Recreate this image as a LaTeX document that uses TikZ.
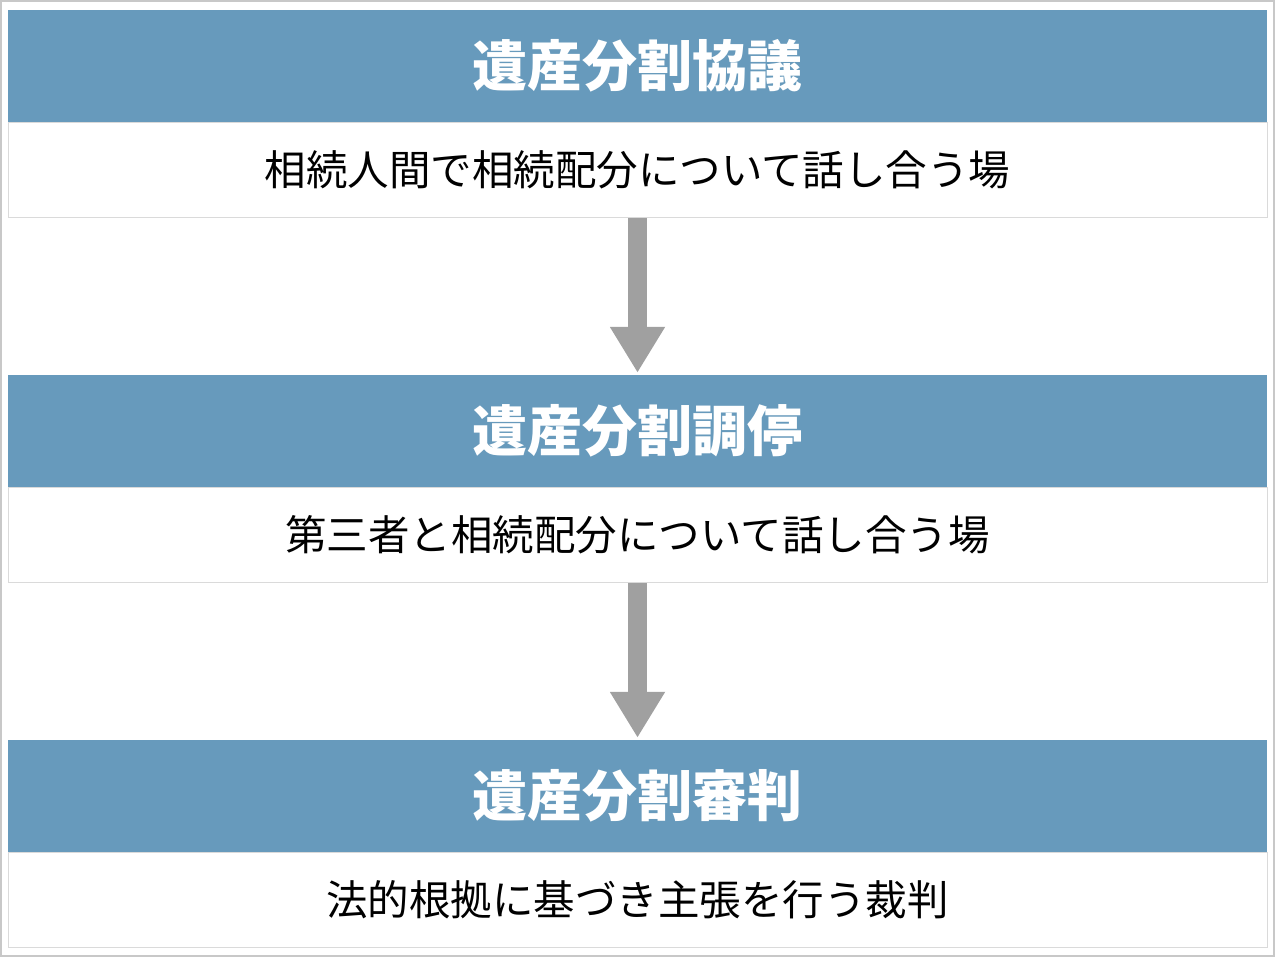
\documentclass[tikz,border=0pt]{standalone}
\usepackage{fontspec}
\newfontfamily\jpfont{Noto Sans CJK JP}
\usepackage{tikz}
\usetikzlibrary{arrows.meta, positioning}
\definecolor{HeadBlue}{HTML}{679ABC}
\definecolor{FlowGray}{HTML}{A0A0A0}
\definecolor{FrameGray}{HTML}{C8C8C8}
\definecolor{BodyLine}{HTML}{DADADA}

\begin{document}
\begin{tikzpicture}[x=1pt, y=-1pt,
  headbox/.style={rectangle, fill=HeadBlue, draw=none, minimum width=1259pt, minimum height=112pt, inner sep=0pt,
    text=white, font=\jpfont\bfseries\fontsize{55}{60}\selectfont},
  bodybox/.style={rectangle, fill=white, draw=BodyLine, line width=1pt, minimum width=1259pt, minimum height=95pt, inner sep=0pt,
    font=\jpfont\fontsize{41.5}{46}\selectfont},
  flow/.style={draw=FlowGray, line width=19pt, -{Triangle[length=46pt, width=52pt]}, shorten >=2pt},
]
  \useasboundingbox (0,0) rectangle (1275,957);
  \draw[FrameGray, line width=2pt] (1,1) rectangle (1274,956);
  % three stages, one header and one body each
  \foreach \i/\yy/\title/\desc in {1/10/遺産分割協議/相続人間で相続配分について話し合う場,
                                   2/375/遺産分割調停/第三者と相続配分について話し合う場,
                                   3/740/遺産分割審判/法的根拠に基づき主張を行う裁判} {
    \node[headbox] (head\i) at (637.5, \yy+56) {\title};
    \node[bodybox, below=0pt of head\i] (body\i) {\raisebox{-2pt}{\desc}};
  }
  \draw[flow] (body1) -- (head2);
  \draw[flow] (body2) -- (head3);
\end{tikzpicture}
\end{document}
